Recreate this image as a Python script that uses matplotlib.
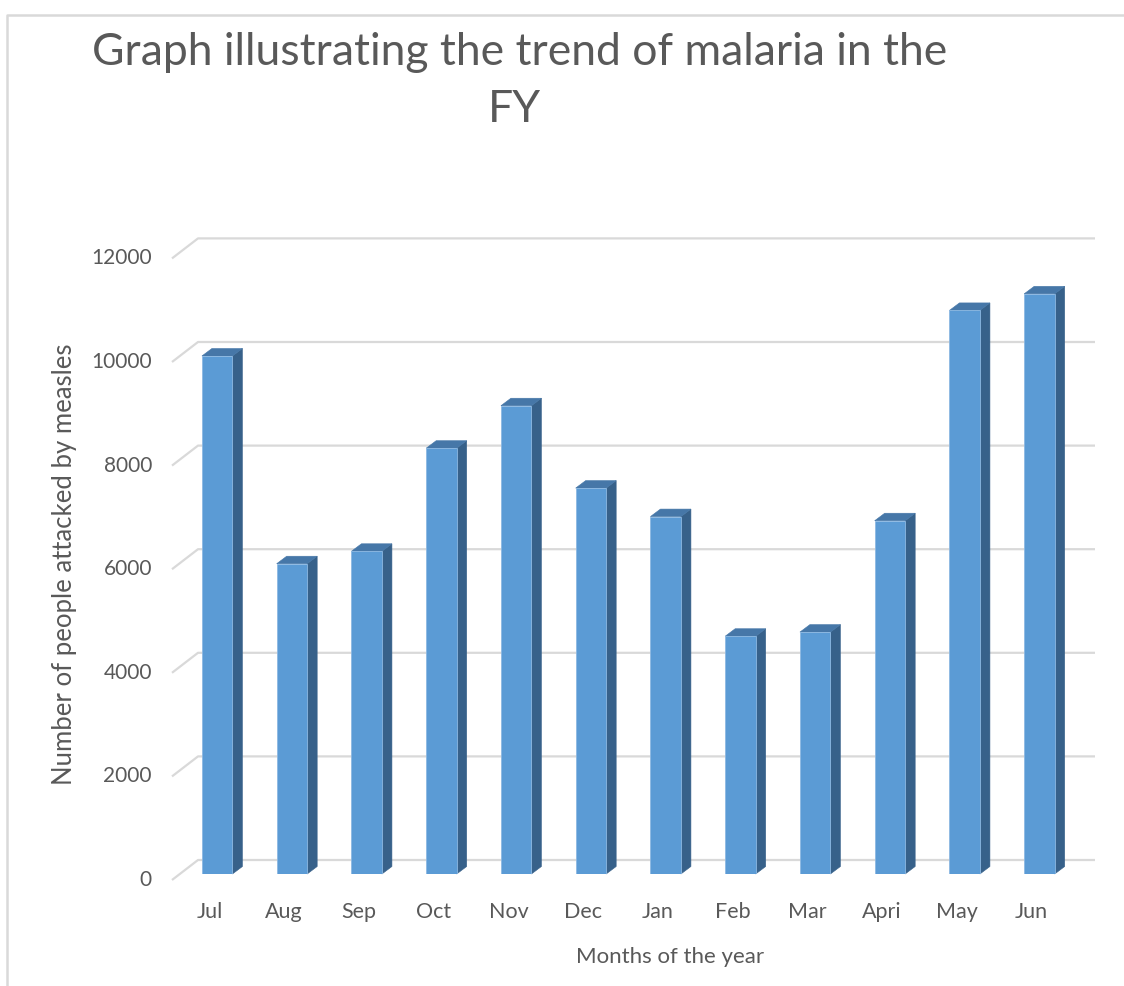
import matplotlib
matplotlib.use("Agg")
import matplotlib.pyplot as plt
from matplotlib.patches import Polygon
from matplotlib.lines import Line2D

# ---- data ----
months = ["Jul", "Aug", "Sep", "Oct", "Nov", "Dec", "Jan", "Feb", "Mar", "Apri", "May", "Jun"]
cases = [10000, 5990, 6230, 8220, 9040, 7450, 6900, 4590, 4670, 6820, 10880, 11200]
yticks = [0, 2000, 4000, 6000, 8000, 10000, 12000]
ytick_labels = ["0", "2000", "4000", "6000", "8000", "10000", "12000"]
title_line1 = "Graph illustrating the trend of malaria in the"
title_line2 = "FY"
xlabel = "Months of the year"
ylabel = "Number of people attacked by measles"

# ---- style ----
FONT = "Lato"
TXT = "#595959"
GRID = "#D9D9D9"
FRONT = "#5B9BD5"
SIDE = "#37618A"
TOP = "#4677A8"

W, H = 1124, 986
fig = plt.figure(figsize=(W / 100, H / 100), dpi=100)
fig.patch.set_facecolor("white")

# axes = front plane of the bars (pixel geometry)
ax_l, ax_r = 179.8, 1076.8
ax_b, ax_t = 874.0, 874.0 - 621.6
ax = fig.add_axes([ax_l / W, (H - ax_b) / H, (ax_r - ax_l) / W, (ax_b - ax_t) / H])
xmin, xmax = -0.5, len(months) - 0.5
ymax = 12000
ax.set_xlim(xmin, xmax)
ax.set_ylim(0, ymax)
ax.axis("off")

ux = (xmax - xmin) / (ax_r - ax_l)   # data units per pixel (x)
uy = ymax / (ax_b - ax_t)            # data units per pixel (y)

# floor depth offsets relative to bar front plane (pixels)
back_dx, back_dy = 18.2, 14.0
front_dx, front_dy = -7.8, -6.0

# gridlines
for v in yticks:
    xb0 = xmin + back_dx * ux
    yb = v + back_dy * uy
    xf = xmin + front_dx * ux
    yf = v + front_dy * uy
    ax.plot([xf, xb0, xmax + back_dx * ux], [yf, yb, yb], color=GRID, lw=1.6,
            solid_capstyle="butt", zorder=1, clip_on=False)

# bars
bw = 30.5 / 74.75
ddx, ddy = 10.0 * ux, 7.5 * uy
xs = list(range(len(months)))
ax.bar(xs, cases, width=bw, color=FRONT, edgecolor="#8CB8E2", linewidth=0.6, zorder=3)
for x, v in zip(xs, cases):
    r = x + bw / 2
    l = x - bw / 2
    side = Polygon([(r, 0), (r + ddx, ddy), (r + ddx, v + ddy), (r, v)], closed=True,
                   facecolor=SIDE, edgecolor=SIDE, lw=0.4, zorder=2.9, clip_on=False)
    top = Polygon([(l, v), (r, v), (r + ddx, v + ddy), (l + ddx, v + ddy)], closed=True,
                  facecolor=TOP, edgecolor=TOP, lw=0.4, zorder=2.9, clip_on=False)
    ax.add_patch(side)
    ax.add_patch(top)

# y tick labels
for v, lab in zip(yticks, ytick_labels):
    ax.text(xmin + (front_dx - 20) * ux, v + front_dy * uy, lab, ha="right", va="center",
            fontsize=15, color=TXT, family=FONT)

# x tick labels
for x, lab in zip(xs, months):
    ax.text(x + front_dx * ux, -38 * uy, lab, ha="center", va="center",
            fontsize=15.5, color=TXT, family=FONT)

# axis titles
fig.text(670 / W, 1 - 957 / H, xlabel, ha="center", va="center", fontsize=16,
         color=TXT, family=FONT)
fig.text(65 / W, 1 - 564 / H, ylabel, ha="center", va="center", rotation=90,
         fontsize=18.5, color=TXT, family=FONT)

# chart title
fig.text(520 / W, 1 - 65 / H, title_line1, ha="center", va="baseline", fontsize=32,
         color=TXT, family=FONT)
fig.text(514 / W, 1 - 122 / H, title_line2, ha="center", va="baseline", fontsize=32,
         color=TXT, family=FONT)

# chart frame (top and left edges visible)
fig.add_artist(Line2D([7 / W, 7 / W, 1.0], [0.0, 1 - 15 / H, 1 - 15 / H],
                      transform=fig.transFigure, color=GRID, lw=1.8))

fig.savefig("out.png", dpi=100, facecolor="white")
